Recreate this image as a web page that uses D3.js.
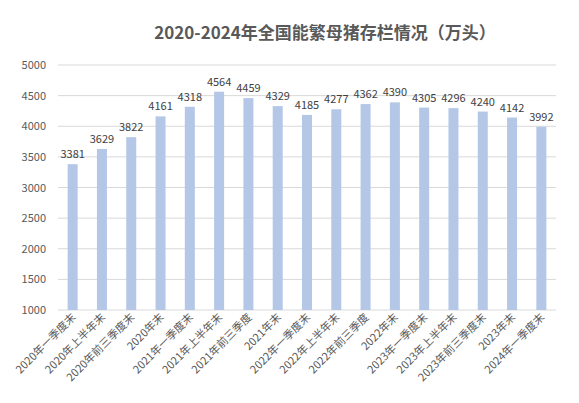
<!DOCTYPE html><html><head><meta charset="utf-8"><script src="https://cdn.jsdelivr.net/npm/d3@7"></script>
<style>body{margin:0;background:#fff}</style></head><body><svg id="c" width="579" height="403"></svg>
<script>
const categories=["2020年一季度末","2020年上半年末","2020年前三季度末","2020年末","2021年一季度末","2021年上半年末","2021年前三季度","2021年末","2022年一季度末","2022年上半年末","2022年前三季度","2022年末","2023年一季度末","2023年上半年末","2023年前三季度末","2023年末","2024年一季度末"];
const values=[3381,3629,3822,4161,4318,4564,4459,4329,4185,4277,4362,4390,4305,4296,4240,4142,3992];
const yTicks=[1000,1500,2000,2500,3000,3500,4000,4500,5000];
const svg=d3.select("#c");
const font="'Noto Sans CJK SC','Microsoft YaHei',sans-serif";
const x=d3.scaleBand().domain(categories).range([58,556]);
const y=d3.scaleLinear().domain([1000,5000]).range([310,65]);
svg.append("text").attr("x",325).attr("y",39).attr("text-anchor","middle").attr("font-family",font).attr("font-size",17).attr("font-weight","bold").attr("fill","#595959").text("2020-2024年全国能繁母猪存栏情况（万头）");
svg.append("g").selectAll("line").data(yTicks).join("line").attr("x1",58).attr("x2",556).attr("y1",d=>y(d)).attr("y2",d=>y(d)).attr("stroke","#d9d9d9");
svg.append("g").selectAll("text").data(yTicks).join("text").attr("x",46).attr("y",d=>y(d)+4).attr("text-anchor","end").attr("font-family",font).attr("font-size",11).attr("fill","#595959").text(d=>d);
const bw=10;
svg.append("g").selectAll("rect").data(values).join("rect").attr("x",(d,i)=>x(categories[i])+x.bandwidth()/2-bw/2).attr("width",bw).attr("y",d=>y(d)).attr("height",d=>y(1000)-y(d)).attr("fill","#b4c7e7");
svg.append("g").selectAll("text").data(values).join("text").attr("x",(d,i)=>x(categories[i])+x.bandwidth()/2).attr("y",d=>y(d)-6).attr("text-anchor","middle").attr("font-family",font).attr("font-size",11).attr("fill","#404040").text(d=>d);
svg.append("g").selectAll("text").data(categories).join("text").attr("transform",d=>`translate(${x(d)+x.bandwidth()/2+4},${318}) rotate(-45)`).attr("text-anchor","end").attr("font-family",font).attr("font-size",11).attr("fill","#595959").text(d=>d);
</script></body></html>
